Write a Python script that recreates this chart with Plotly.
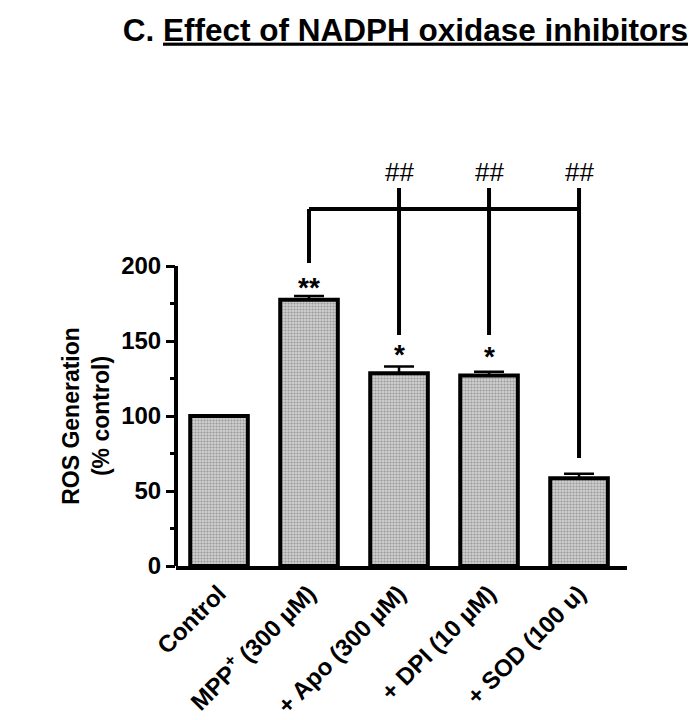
import plotly.graph_objects as go

categories = ["Control", "MPP<sup>+</sup> (300 µM)", "+ Apo (300 µM)", "+ DPI (10 µM)", "+ SOD (100 u)"]
values = [100, 177.5, 128.5, 127, 58.5]
errors = [0, 2.5, 4.5, 2.5, 3]
sig_labels = ["", "**", "*", "*", ""]
sig_y = [0, 186, 141, 140, 0]
hash_labels = ["", "", "##", "##", "##"]
hash_y = 263
bracket_y = 238
bracket_drop = [0, 202, 154, 154, 72]
bracket_top = 252

FONT = "Liberation Sans, Arial, sans-serif"
x = list(range(len(categories)))

fig = go.Figure()
fig.add_trace(go.Bar(
    x=x, y=values, width=0.64,
    marker=dict(color="#b8b8b8", line=dict(color="black", width=4),
                pattern=dict(shape=".", fgcolor="#606060", bgcolor="#d0d0d0", size=3, solidity=0.4)),
    error_y=dict(type="data", array=errors, arrayminus=[0]*5, symmetric=False,
                 color="black", thickness=2.5, width=15),
    showlegend=False,
))

for i, (lab, yy) in enumerate(zip(sig_labels, sig_y)):
    if lab:
        fig.add_annotation(x=i, y=yy, text="<b>" + lab + "</b>", showarrow=False,
                           font=dict(family=FONT, size=28, color="black"), yanchor="middle")
for i, lab in enumerate(hash_labels):
    if lab:
        fig.add_annotation(x=i, y=hash_y, text=lab, showarrow=False,
                           font=dict(family=FONT, size=26, color="black"), yanchor="middle")

fig.add_shape(type="line", xref="x", yref="y", x0=1, x1=4, y0=bracket_y, y1=bracket_y,
              line=dict(color="black", width=4))
fig.add_shape(type="line", xref="x", yref="y", x0=1, x1=1, y0=bracket_drop[1], y1=bracket_y,
              line=dict(color="black", width=4))
for i in (2, 3, 4):
    fig.add_shape(type="line", xref="x", yref="y", x0=i, x1=i, y0=bracket_drop[i], y1=bracket_top,
                  line=dict(color="black", width=4))

fig.add_shape(type="line", xref="x domain", yref="y", x0=0, x1=0, y0=0, y1=200,
              line=dict(color="black", width=4))

# y-axis title centred on the 0-200 part of the axis
fig.add_annotation(xref="paper", yref="y", x=-0.2, y=100, xanchor="center", yanchor="middle",
                   text="<b>ROS Generation<br>(% control)</b>", textangle=-90, showarrow=False,
                   font=dict(family=FONT, size=23, color="black"))

fig.update_layout(
    width=696, height=720,
    margin=dict(l=168, r=77, t=153, b=162, autoexpand=False),
    paper_bgcolor="white", plot_bgcolor="white",
    font=dict(family=FONT, color="black"),
    title=dict(text="<b>C. <u>Effect of NADPH oxidase inhibitors</u></b>",
               xref="container", x=0.571, xanchor="center",
               yref="container", y=0.97, yanchor="middle",
               font=dict(family=FONT, size=31.5, color="black")),
    xaxis=dict(range=[-0.478, 4.533], tickmode="array", tickvals=x,
               ticktext=["<b>" + c + "</b>" for c in categories],
               tickangle=-45, tickfont=dict(family=FONT, size=24, color="black"),
               showline=True, linecolor="black", linewidth=4, ticks="",
               showgrid=False, zeroline=False, automargin=False),
    yaxis=dict(range=[0, 270], tickmode="array", tickvals=[0, 50, 100, 150, 200],
               ticktext=["<b>%d</b>" % v for v in [0, 50, 100, 150, 200]],
               tickfont=dict(family=FONT, size=24, color="black"),
               ticks="outside", ticklen=9, tickwidth=3, tickcolor="black",
               minor=dict(tickvals=[25, 75, 125, 175], ticks="outside", ticklen=5,
                          tickwidth=3, tickcolor="black"),
               showline=False, showgrid=False, zeroline=False, automargin=False),
)

fig.write_html("out.html")
